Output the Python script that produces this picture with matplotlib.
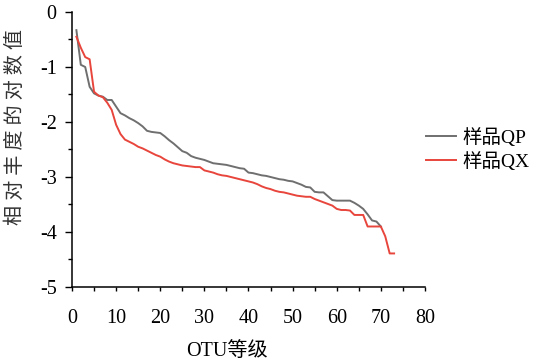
import matplotlib
matplotlib.use("Agg")
import matplotlib.pyplot as plt
from matplotlib.ticker import MultipleLocator

plt.rcParams["font.family"] = ["Liberation Serif", "Noto Sans CJK SC"]
plt.rcParams["axes.unicode_minus"] = False

# OTU rank vs log relative abundance
rank_qp = list(range(1, 71))
log_qp = [-0.33, -0.96, -1.00, -1.36, -1.48, -1.52, -1.54, -1.60, -1.60, -1.72,
          -1.84, -1.88, -1.93, -1.97, -2.02, -2.08, -2.16, -2.18, -2.19, -2.20,
          -2.26, -2.33, -2.39, -2.46, -2.53, -2.56, -2.62, -2.65, -2.67, -2.69,
          -2.72, -2.75, -2.76, -2.77, -2.78, -2.80, -2.82, -2.84, -2.85, -2.92,
          -2.93, -2.95, -2.97, -2.98, -3.00, -3.02, -3.04, -3.05, -3.07, -3.08,
          -3.11, -3.14, -3.18, -3.19, -3.27, -3.28, -3.28, -3.35, -3.42, -3.43,
          -3.43, -3.43, -3.43, -3.47, -3.52, -3.58, -3.68, -3.79, -3.81, -3.90]

rank_qx = list(range(1, 74))
log_qx = [-0.45, -0.65, -0.82, -0.86, -1.45, -1.52, -1.55, -1.65, -1.78, -2.05,
          -2.22, -2.32, -2.36, -2.40, -2.45, -2.48, -2.52, -2.56, -2.60, -2.63,
          -2.68, -2.72, -2.75, -2.77, -2.79, -2.80, -2.81, -2.82, -2.82, -2.88,
          -2.90, -2.92, -2.95, -2.97, -2.98, -3.00, -3.02, -3.04, -3.06, -3.08,
          -3.10, -3.13, -3.17, -3.20, -3.22, -3.25, -3.27, -3.28, -3.30, -3.32,
          -3.34, -3.35, -3.36, -3.36, -3.40, -3.43, -3.46, -3.49, -3.52, -3.58,
          -3.60, -3.60, -3.61, -3.69, -3.69, -3.69, -3.90, -3.90, -3.90, -3.90,
          -4.08, -4.39, -4.39]

fig = plt.figure(figsize=(5.4, 3.6), dpi=100)
ax = fig.add_axes([0.1333, 0.2028, 0.6537, 0.7639])

ax.plot(rank_qp, log_qp, color="#6f6f6f", lw=1.4, label="样品QP")
ax.plot(rank_qx, log_qx, color="#e8453c", lw=1.4, label="样品QX")

ax.set_xlim(0, 80)
ax.set_ylim(-5, 0)
ax.xaxis.set_major_locator(MultipleLocator(10))
ax.xaxis.set_minor_locator(MultipleLocator(5))
ax.yaxis.set_major_locator(MultipleLocator(1))
ax.yaxis.set_minor_locator(MultipleLocator(0.5))
ax.tick_params(which="major", direction="out", length=5, width=1, labelsize=14.5, pad=6)
ax.tick_params(which="minor", direction="out", length=3, width=1)
ax.tick_params(axis="x", which="major", length=3, pad=13)

for side in ["top", "right"]:
    ax.spines[side].set_visible(False)
for side in ["left", "bottom"]:
    ax.spines[side].set_linewidth(1.1)

ax.set_xlabel("OTU等级", fontsize=14.5)
ax.xaxis.set_label_coords(0.44, -0.2)
ax.set_ylabel("相 对 丰 度 的 对 数 值", fontsize=14.5, color="#333333")
ax.yaxis.set_label_coords(-0.13, 0.58)

fig.legend(loc="center left", bbox_to_anchor=(0.789, 0.585), frameon=False,
           fontsize=14, handlelength=1.55, handletextpad=0.3, labelspacing=0.25,
           borderpad=0, borderaxespad=0)

fig.savefig("out.png", dpi=100)
